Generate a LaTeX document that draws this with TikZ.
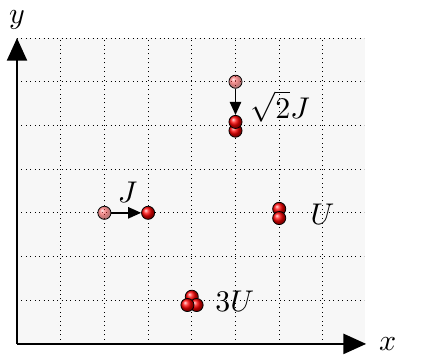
\documentclass[tikz,border=0pt]{standalone}
\usetikzlibrary{arrows.meta,shadings}
\definecolor{gridback}{RGB}{247,247,247}

\begin{document}
\begin{tikzpicture}[x=1cm,y=1cm,
    ball/.style={circle,draw=black,line width=0.5pt,inner sep=0pt,
      minimum size=0.3cm,shading=ball,ball color=red},
    oldball/.style={ball,fill opacity=0.5},
    hop/.style={line width=1pt,-{Triangle[length=3mm,width=2.6mm]}},
    axis/.style={line width=1.3pt,-{Triangle[length=5.2mm,width=4.6mm]}},
    lbl/.style={scale=1.95,inner sep=0pt}]
  \useasboundingbox (-0.389,-0.435) rectangle (9.84,7.87);
  \fill[gridback] (0,0) rectangle (7.97,7);
  \draw[line width=0.6pt,dash pattern=on 0.6pt off 2.3pt] (0,0) grid (7.95,7);

  \draw[axis] (0,0) -- (7.99,0);
  \draw[axis] (0,0) -- (0,7);
  \node[lbl] (xlab) at (8.48,0) {$x$};
  \node[lbl] (ylab) at (0,7.42) {$y$};

  % J hop
  \node[oldball] (p1) at (2,3) {};
  \node[ball] (r1) at (3,3) {};
  \draw[hop] (p1) -- (r1);
  \node[lbl] (jlab) at (2.53,3.48) {$J$};

  % sqrt2 J hop
  \node[oldball] (p2) at (5,6) {};
  \node[ball] (r2b) at (5,4.88) {};
  \node[ball] (r2a) at (5,5.08) {};
  \draw[hop] (p2) -- (r2a);
  \node[lbl] (sjlab) at (6.02,5.43) {$\sqrt{2}J$};

  % U pair
  \node[ball] (u1) at (6,3.09) {};
  \node[ball] (u2) at (6,2.88) {};
  \node[lbl] (ulab) at (6.99,2.96) {$U$};

  % 3U triple
  \node[ball] (t1) at (4,1.08) {};
  \node[ball] (t3) at (4.11,0.89) {};
  \node[ball] (t2) at (3.9,0.89) {};
  \node[lbl] (tlab) at (4.98,0.97) {$3U$};
\end{tikzpicture}
\end{document}
